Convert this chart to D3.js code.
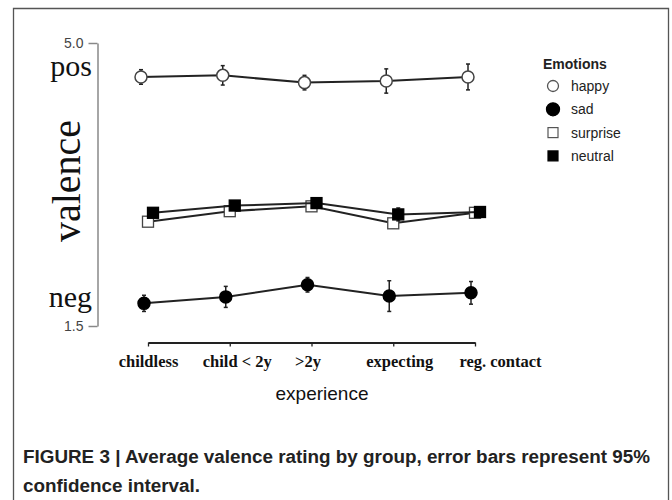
<!DOCTYPE html>
<html><head><meta charset="utf-8">
<script src="https://cdn.jsdelivr.net/npm/d3@7"></script>
<style>body{margin:0;background:#fff}</style>
</head><body>
<svg id="c" width="672" height="500"></svg>
<script>
const categories = ["childless", "child < 2y", ">2y", "expecting", "reg. contact"];
const happy    = [4.58, 4.60, 4.51, 4.53, 4.58];
const happyErr = [0.09, 0.12, 0.09, 0.15, 0.16];
const sad      = [1.78, 1.86, 2.01, 1.87, 1.91];
const sadErr   = [0.10, 0.13, 0.09, 0.19, 0.14];
const surprise    = [2.79, 2.92, 2.98, 2.77, 2.90];
const surpriseErr = [0.05, 0.05, 0.05, 0.06, 0.05];
const neutral    = [2.90, 2.99, 3.02, 2.88, 2.91];
const neutralErr = [0.05, 0.05, 0.05, 0.08, 0.05];
const yTicks = [1.5, 5.0];

const series = [
  {name:"happy", values:happy, err:happyErr, shape:"circle", fill:"#fff", dodge:-7},
  {name:"sad", values:sad, err:sadErr, shape:"circle", fill:"#000", dodge:-4},
  {name:"surprise", values:surprise, err:surpriseErr, shape:"square", fill:"#fff", dodge:0},
  {name:"neutral", values:neutral, err:neutralErr, shape:"square", fill:"#000", dodge:5}
];

const svg = d3.select("#c");
// frame
svg.append("path").attr("d","M13.5,510 L13.5,8.5 L668.5,8.5 L668.5,510")
  .attr("fill","none").attr("stroke","#555").attr("stroke-width",1.3);

const x = d3.scalePoint().domain(categories).range([148, 475]);
const y = d3.scaleLinear().domain([1.5, 5.0]).range([326, 43]);

// y axis
const ya = svg.append("g").attr("transform","translate(97.5,0)")
  .call(d3.axisLeft(y).tickValues(yTicks).tickSize(9).tickSizeOuter(0).tickFormat(d3.format(".1f")));
ya.select(".domain").attr("stroke","#888").attr("stroke-width",1.5);
ya.selectAll(".tick line").attr("stroke","#888").attr("stroke-width",1.5);
ya.selectAll(".tick text").attr("font-family","Liberation Sans, Arial, sans-serif")
  .attr("font-size",14).attr("fill","#444").attr("x",-14);

// x axis
const xa = svg.append("g").attr("transform","translate(0,342.5)")
  .call(d3.axisBottom(x).tickSize(4).tickSizeOuter(0));
xa.select(".domain").attr("stroke","#222").attr("stroke-width",1.8);
xa.selectAll(".tick line").attr("stroke","#222").attr("stroke-width",1.3);
const labelNudge = [0, 7, -4, 6, 25];
xa.selectAll(".tick text").attr("font-family","Liberation Serif, Times New Roman, serif")
  .attr("font-size",16.5).attr("font-weight","bold").attr("fill","#111")
  .attr("y",13).attr("dx",(d,i)=>labelNudge[i]);

// axis titles
svg.append("text").attr("x",322).attr("y",400).attr("text-anchor","middle")
  .attr("font-family","Liberation Sans, Arial, sans-serif").attr("font-size",19).attr("fill","#111")
  .text("experience");
svg.append("text").attr("transform","translate(80,181) rotate(-90)").attr("text-anchor","middle")
  .attr("font-family","Liberation Serif, Times New Roman, serif").attr("font-size",40).attr("fill","#111")
  .text("valence");
svg.append("text").attr("x",92).attr("y",76).attr("text-anchor","end")
  .attr("font-family","Liberation Serif, Times New Roman, serif").attr("font-size",30).attr("fill","#111")
  .text("pos");
svg.append("text").attr("x",92).attr("y",307).attr("text-anchor","end")
  .attr("font-family","Liberation Serif, Times New Roman, serif").attr("font-size",30).attr("fill","#111")
  .text("neg");

// series
const plot = svg.append("g");
series.forEach(s => {
  const pts = categories.map((c,i)=>({x:x(c)+s.dodge, v:s.values[i], e:s.err[i]}));
  const g = plot.append("g");
  g.append("path").datum(pts)
    .attr("d", d3.line().x(d=>d.x).y(d=>y(d.v)))
    .attr("fill","none").attr("stroke","#222").attr("stroke-width",2);
  const eb = g.selectAll(".eb").data(pts).enter().append("g");
  eb.append("line").attr("x1",d=>d.x).attr("x2",d=>d.x)
    .attr("y1",d=>y(d.v-d.e)).attr("y2",d=>y(d.v+d.e)).attr("stroke","#222").attr("stroke-width",1.5);
  eb.append("line").attr("x1",d=>d.x-2).attr("x2",d=>d.x+2)
    .attr("y1",d=>y(d.v-d.e)).attr("y2",d=>y(d.v-d.e)).attr("stroke","#222").attr("stroke-width",1.5);
  eb.append("line").attr("x1",d=>d.x-2).attr("x2",d=>d.x+2)
    .attr("y1",d=>y(d.v+d.e)).attr("y2",d=>y(d.v+d.e)).attr("stroke","#222").attr("stroke-width",1.5);
  if (s.shape==="circle") {
    g.selectAll("circle").data(pts).enter().append("circle")
      .attr("cx",d=>d.x).attr("cy",d=>y(d.v)).attr("r",6)
      .attr("fill",s.fill).attr("stroke", s.fill==="#fff" ? "#444" : "#000").attr("stroke-width",1.5);
  } else {
    g.selectAll("rect").data(pts).enter().append("rect")
      .attr("x",d=>d.x-5.5).attr("y",d=>y(d.v)-5.5).attr("width",11).attr("height",11)
      .attr("fill",s.fill).attr("stroke", s.fill==="#fff" ? "#444" : "#000").attr("stroke-width",1.3);
  }
});

// legend
const lg = svg.append("g");
lg.append("text").attr("x",543).attr("y",69).attr("font-family","Liberation Sans, Arial, sans-serif")
  .attr("font-size",14).attr("font-weight","bold").attr("fill","#222").text("Emotions");
series.forEach((s,i)=>{
  const cy = 86 + i*23.3;
  if (s.shape==="circle") {
    lg.append("circle").attr("cx",553).attr("cy",cy).attr("r", s.fill==="#fff"?5.5:6.5)
      .attr("fill",s.fill).attr("stroke",s.fill==="#fff"?"#555":"#000").attr("stroke-width",1.3);
  } else {
    lg.append("rect").attr("x",548).attr("y",cy-5).attr("width",10).attr("height",10)
      .attr("fill",s.fill).attr("stroke",s.fill==="#fff"?"#555":"#000").attr("stroke-width",1.2);
  }
  lg.append("text").attr("x",571).attr("y",cy+5).attr("font-family","Liberation Sans, Arial, sans-serif")
    .attr("font-size",14).attr("fill","#222").text(s.name);
});

// caption
const cap1 = svg.append("text").attr("x",23).attr("y",463).attr("font-family","Liberation Sans, Arial, sans-serif")
  .attr("font-size",17.5).attr("font-weight","bold").attr("fill","#222")
  .text("FIGURE 3 | Average valence rating by group, error bars represent 95%");
const cap2 = svg.append("text").attr("x",23).attr("y",492).attr("font-family","Liberation Sans, Arial, sans-serif")
  .attr("font-size",17.5).attr("font-weight","bold").attr("fill","#222")
  .text("confidence interval.");
const n1 = cap1.node().getComputedTextLength();
const n2 = cap2.node().getComputedTextLength();
const k = 627 / n1;
cap1.attr("textLength",627).attr("lengthAdjust","spacingAndGlyphs");
cap2.attr("textLength",n2*k).attr("lengthAdjust","spacingAndGlyphs");
</script>
</body></html>
